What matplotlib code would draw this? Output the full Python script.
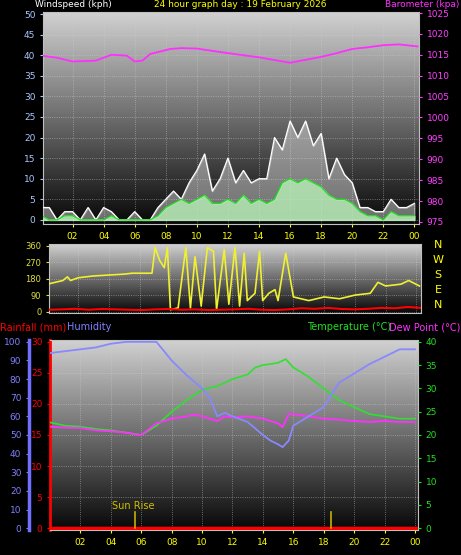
import numpy as np
import matplotlib
matplotlib.use("Agg")
import matplotlib.pyplot as plt
from matplotlib.colors import LinearSegmentedColormap

W, H = 461, 555
hh = [i * 0.5 for i in range(49)]
gust = [3,3,0,2,2,0,3,0,3,2,0,0,2,0,0,3,5,7,5,9,12,16,7,10,15,9,12,9,10,10,20,17,24,20,24,18,21,10,15,11,9,3,3,2,2,5,3,3,4]
avg = [1,0,0,1,1,0,0,0,0,1,0,0,0,0,0,1,3,4,5,4,5,6,4,4,5,4,6,4,5,4,5,9,10,9,10,9,8,6,5,5,4,2,1,1,0,2,1,1,1]
baro_t = [0,1,2,3.5,4.5,5.5,6,6.5,7,8.3,9,10,12,14,16,18,19,20,21,22,23,24.2]
baro = [1014.8,1014.3,1013.4,1013.6,1015.0,1014.8,1013.4,1013.6,1015.2,1016.4,1016.6,1016.5,1015.4,1014.4,1013.1,1014.5,1015.4,1016.4,1016.8,1017.3,1017.5,1017.0]
dir_t = [0,0.5,1,1.3,1.5,2,3,4,5,5.5,6,6.8,7,7.3,7.6,7.8,8,8.5,9,9.3,9.6,10,10.4,10.8,11,11.5,11.8,12.2,12.5,12.8,13,13.5,13.8,14,14.4,14.8,15,15.5,16,17,18,19,20,21,21.5,22,23,23.5,24.2]
wdir = [150,160,170,190,170,185,195,200,205,210,210,210,350,280,240,350,10,20,350,20,300,30,350,330,10,340,40,350,30,320,60,100,330,60,100,120,60,320,80,60,80,70,90,100,160,140,150,170,140]
rain_w = [10,12,15,10,14,12,10,8,12,14,10,12,8,10,12,15,10,8,12,18,15,20,14,12,15,20,18,25,20]
hum_t = [0,1,2,3,4,5,6,7,8,9,10,10.5,11,11.5,12,13,14,14.5,15,15.3,15.7,16,17,18,19,20,21,22,23,24]
hum = [94,95,96,97,99,100,100,100,90,82,75,70,60,62,60,57,50,47,45,43.5,47,55,60,65,78,83,88,92,96,96]
tmp_t = [0,1,2,3,4,5,6,7,8,9,10,11,12,13,13.5,14,15,15.5,16,17,18,19,20,21,22,23,24]
temp = [22.7,22,21.8,21.3,21,20.5,20,22,25,27.5,29.7,30.5,32,33,34.5,35,35.5,36.3,34.5,32.5,30,27.5,26,24.5,24,23.5,23.5]
dew_t = [0,1,2,3,4,5,6,7,8,9,9.5,10,11,11.5,12,13,14,15,15.3,15.7,16,17,18,19,20,21,22,23,24]
dew = [21.8,21.6,21.5,21,20.8,20.5,20,22.5,23.5,24,24.4,24,23,24,23.8,24,23.5,22.5,21.7,24.5,24.5,24,23.5,23.3,23,22.8,23,22.8,22.8]
sun_events = [5.6, 18.5]
xt = list(range(2, 25, 2))
xtl = ["%02d" % (v % 24) for v in xt]

fig = plt.figure(figsize=(W/100, H/100), dpi=100, facecolor="black")
cmap = LinearSegmentedColormap.from_list("g", ["#080808", "#d0d0d0"])
FS = 6.5
TF = 7

def rect(l, r, t, b):
    return [l/W, (H-b)/H, (r-l)/W, (b-t)/H]

def setup(ax, xmin, xmax):
    ax.set_facecolor("black")
    ax.imshow(np.linspace(0, 1, 100).reshape(-1, 1)[::-1], aspect="auto", cmap=cmap,
              extent=[0, 1, 0, 1], transform=ax.transAxes, zorder=0)
    ax.set_xlim(xmin, xmax)
    ax.grid(True, color="#d0d0d0", linestyle=":", linewidth=0.6, alpha=0.6)
    for s in ax.spines.values():
        s.set_color("#c0c0c0")
    ax.set_xticks(xt)
    ax.tick_params(axis="x", colors="yellow", labelsize=FS, length=2)
    ax.set_xticklabels(xtl)

# Top panel
ax1 = fig.add_axes(rect(43, 419, 12, 224))
setup(ax1, 0.1, 24.3)
ax1.set_ylim(-1, 50.5)
ax1.set_yticks(range(0, 51, 5))
ax1.tick_params(axis="y", colors="#a8c8ff", labelsize=FS, length=2)
ax1.fill_between(hh, gust, color="#e8e8e8", alpha=0.45, zorder=2)
ax1.plot(hh, gust, color="white", lw=0.9, zorder=3)
ax1.fill_between(hh, avg, color="#b8f0b8", alpha=0.8, zorder=4)
ax1.plot(hh, avg, color="#22dd22", lw=0.9, zorder=5)
ax1b = ax1.twinx()
ax1b.set_ylim(975 - 0.5, 1025.25)
ax1b.set_yticks(range(975, 1026, 5))
ax1b.tick_params(axis="y", colors="#ff40ff", labelsize=FS, length=2)
ax1b.plot(baro_t, baro, color="#ff30ff", lw=1.3)
for s in ax1b.spines.values():
    s.set_visible(False)
fig.text(35/W, 1-0/H, "Windspeed (kph)", color="white", fontsize=6.5, va="top")
fig.text(240/W, 1-0/H, "24 hour graph day : 19 February 2026", color="yellow", fontsize=6.5, va="top", ha="center")
fig.text(459/W, 1-0/H, "Barometer (kpa)", color="#ff30ff", fontsize=6.5, va="top", ha="right")

# Middle panel
ax2 = fig.add_axes(rect(49, 421, 244, 313))
setup(ax2, 0.1, 24.3)
ax2.set_xticklabels([])
ax2.tick_params(axis="x", length=0)
ax2.set_ylim(-8, 370)
ax2.set_yticks([0, 90, 180, 270, 360])
ax2.tick_params(axis="y", colors="#e0e040", labelsize=6, length=2)
ax2.plot(dir_t, wdir, color="#f0f030", lw=1.2, zorder=3)
ax2.plot(np.linspace(0.1, 24.3, len(rain_w)), rain_w, color="red", lw=1.5, zorder=4)
for i, c in enumerate("NWSEN"):
    fig.text(438/W, 1-(245+15*i)/H, c, color="yellow", fontsize=8, ha="center", va="center")

# Bottom panel
fig.text(0, 1-327/H, "Rainfall (mm)", color="red", fontsize=TF, va="center")
fig.text(67/W, 1-327/H, "Humidity", color="#8080ff", fontsize=TF, va="center")
fig.text(391/W, 1-327/H, "Temperature (°C)", color="#20e020", fontsize=TF, va="center", ha="right")
fig.text(460/W, 1-327/H, "Dew Point (°C)", color="#ff30ff", fontsize=TF, va="center", ha="right")

ax3 = fig.add_axes(rect(50, 418, 340, 530))
setup(ax3, 0, 24.2)
ax3.set_ylim(-0.3, 30.3)
ax3.set_yticks(range(0, 31, 5))
ax3.tick_params(axis="y", colors="red", labelsize=FS, length=2)
ax3.spines["left"].set_color("red")
ax3.spines["left"].set_linewidth(2)
ax3.axhline(0, color="red", lw=2.5, zorder=5)
for t in sun_events:
    ax3.plot([t, t], [0, 2.6], color="#c8b000", lw=1.2, zorder=5)
ax3.text(5.5, 2.7, "Sun Rise", color="#d0c000", fontsize=TF, ha="center", va="bottom", zorder=6)

ax3t = ax3.twinx()
ax3t.set_ylim(-0.4, 40.4)
ax3t.set_yticks(range(0, 41, 5))
ax3t.tick_params(axis="y", colors="#20e020", labelsize=FS, length=2)
for s in ax3t.spines.values():
    s.set_visible(False)
ax3t.plot(tmp_t, temp, color="#30e030", lw=1.2)
ax3t.plot(dew_t, dew, color="#ff30ff", lw=1.3)

ax3h = ax3.twinx()
ax3h.set_ylim(-1, 101)
ax3h.yaxis.set_ticks_position("left")
ax3h.spines["left"].set_position(("axes", -21/368))
ax3h.spines["left"].set_visible(True)
ax3h.spines["left"].set_color("#7070ff")
ax3h.spines["left"].set_linewidth(2.5)
for k in ("right", "top", "bottom"):
    ax3h.spines[k].set_visible(False)
ax3h.set_yticks(range(0, 101, 10))
ax3h.tick_params(axis="y", colors="#8080ff", labelsize=FS, length=2)
ax3h.plot(hum_t, hum, color="#8888ff", lw=1.3)

fig.savefig("out.png", dpi=100, facecolor="black")
